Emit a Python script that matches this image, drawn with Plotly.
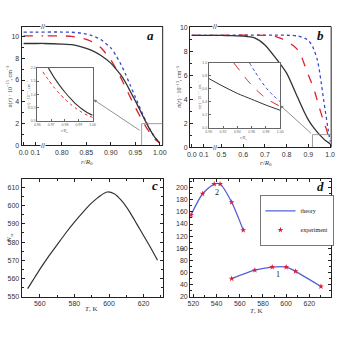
import plotly.graph_objects as go

# ---------------- data ----------------
# panel a : n(r) profiles
r_a = [0.0, 0.1, 0.76, 0.80, 0.82, 0.84, 0.86, 0.88, 0.90, 0.91, 0.92, 0.93, 0.94, 0.95, 0.96, 0.97, 0.98, 0.99, 1.0]
a_black = [9.35, 9.35, 9.35, 9.3, 9.25, 9.05, 8.75, 8.25, 7.55, 7.05, 6.5, 5.8, 4.95, 4.1, 3.2, 2.3, 1.45, 0.75, 0.25]
a_red = [10.05, 10.05, 10.05, 10.05, 10.0, 9.85, 9.55, 8.95, 7.85, 7.1, 6.25, 5.35, 4.4, 3.5, 2.65, 1.85, 1.15, 0.6, 0.2]
a_blue = [10.4, 10.4, 10.4, 10.4, 10.38, 10.3, 10.1, 9.7, 8.95, 8.3, 7.5, 6.55, 5.5, 4.45, 3.4, 2.4, 1.5, 0.75, 0.25]

# inset of panel a
ia_r_black = [0.968, 0.972, 0.976, 0.980, 0.984, 0.988, 0.992, 0.996, 1.0]
ia_black = [2.0, 1.65, 1.35, 1.08, 0.85, 0.63, 0.46, 0.32, 0.21]
ia_r_red = [0.964, 0.968, 0.972, 0.976, 0.980, 0.984, 0.988, 0.992, 0.996, 1.0]
ia_red = [1.85, 1.55, 1.27, 1.03, 0.82, 0.63, 0.47, 0.33, 0.22, 0.13]

# panel b : n(r) profiles
r_b_black = [0.0, 0.1, 0.45, 0.50, 0.55, 0.60, 0.65, 0.70, 0.75, 0.80, 0.85, 0.88, 0.90, 0.92, 0.94, 0.96, 0.98, 1.0]
b_black = [9.35, 9.35, 9.35, 9.34, 9.32, 9.28, 9.15, 8.55, 7.45, 6.2, 4.2, 3.0, 2.3, 1.75, 1.3, 0.9, 0.55, 0.3]
r_b_red = [0.0, 0.1, 0.45, 0.70, 0.75, 0.78, 0.80, 0.83, 0.85, 0.87, 0.89, 0.91, 0.93, 0.95, 0.97, 0.985, 1.0]
b_red = [9.35, 9.35, 9.35, 9.35, 9.25, 9.05, 8.85, 8.5, 8.15, 7.5, 6.5, 5.6, 4.6, 3.35, 2.2, 1.4, 0.35]
r_b_blue = [0.0, 0.1, 0.45, 0.82, 0.85, 0.87, 0.89, 0.90, 0.92, 0.94, 0.95, 0.96, 0.97, 0.98, 0.99, 1.0]
b_blue = [9.35, 9.35, 9.35, 9.35, 9.3, 9.2, 9.05, 8.95, 8.4, 7.4, 6.5, 5.3, 4.0, 2.8, 1.6, 0.5]

# inset of panel b
ib_r_black = [0.90, 0.92, 0.94, 0.96, 0.98, 1.0]
ib_black = [0.76, 0.64, 0.53, 0.44, 0.35, 0.27]
ib_r_red = [0.935, 0.945, 0.955, 0.965, 0.975, 0.985, 1.0]
ib_red = [1.0, 0.86, 0.72, 0.6, 0.5, 0.42, 0.33]
ib_r_blue = [0.957, 0.965, 0.972, 0.98, 0.99, 1.0]
ib_blue = [1.0, 0.86, 0.74, 0.62, 0.5, 0.4]

# panel c : N_cr(T)
T_c = [553, 556, 560, 565, 570, 575, 580, 585, 590, 595, 599, 603, 607, 612, 616, 620, 624, 628]
N_c = [554.5, 559, 565, 572, 578.5, 585, 591, 596.5, 601.5, 605.5, 607.5, 606.5, 603, 596.5, 590, 583.5, 577, 570]

# panel d : theory / experiment
T_d2 = [518, 528, 538, 543, 553, 563]
g_d2 = [155, 190, 206, 206, 176, 130]
T_d1 = [553, 573, 588, 600, 608, 630]
g_d1 = [50, 64, 69, 69, 62, 37]

# ---------------- helpers ----------------
W = 344.0
def px(x):
    return x / W
def py(y):
    return 1 - y / W

BLACK = "#333333"
RED = "#e0202a"
BLUE = "#3a48d0"
TICKF = dict(family="Liberation Sans", size=7, color="#333")
SERIF = "Liberation Serif"

fig = go.Figure()

def add_line(x, y, xa, ya, color, dash, width=1.3, name=None, legend=False):
    fig.add_trace(go.Scatter(x=x, y=y, xaxis=xa, yaxis=ya, mode="lines",
                             line=dict(color=color, dash=dash, width=width, shape="spline", smoothing=0.6),
                             showlegend=legend, name=name, hoverinfo="skip"))

# panel a main (both broken segments)
for xa in ["x", "x2"]:
    add_line(r_a, a_blue, xa, "y", BLUE, "dot")
    add_line(r_a, a_red, xa, "y", RED, "dash")
    add_line(r_a, a_black, xa, "y", BLACK, "solid")
# inset a
add_line(ia_r_red, ia_red, "x3", "y3", RED, "dot", 1.0)
add_line(ia_r_black, ia_black, "x3", "y3", BLACK, "solid", 1.1)

# panel b main
for xa in ["x4", "x5"]:
    add_line(r_b_blue, b_blue, xa, "y4", BLUE, "dot")
    add_line(r_b_red, b_red, xa, "y4", RED, "dash")
    add_line(r_b_black, b_black, xa, "y4", BLACK, "solid")
# inset b
add_line(ib_r_blue, ib_blue, "x6", "y6", BLUE, "dot", 1.0)
add_line(ib_r_red, ib_red, "x6", "y6", RED, "dash", 1.0)
add_line(ib_r_black, ib_black, "x6", "y6", BLACK, "solid", 1.0)

# panel c
add_line(T_c, N_c, "x7", "y7", BLACK, "solid", 1.2)

# panel d
fig.add_trace(go.Scatter(x=T_d2, y=g_d2, xaxis="x8", yaxis="y8", mode="lines",
                         line=dict(color="#5560d8", width=1.3, shape="spline", smoothing=0.8),
                         name="theory", legendgroup="th", showlegend=True))
fig.add_trace(go.Scatter(x=T_d1, y=g_d1, xaxis="x8", yaxis="y8", mode="lines",
                         line=dict(color="#5560d8", width=1.3, shape="spline", smoothing=0.8),
                         name="theory", legendgroup="th", showlegend=False))
fig.add_trace(go.Scatter(x=T_d2 + [None] + T_d1, y=g_d2 + [None] + g_d1, xaxis="x8", yaxis="y8",
                         mode="markers", marker=dict(symbol="star", size=4.5, color="#d8203c"),
                         name="experiment", showlegend=True))

def main_axis(domain, rng, anchor, **kw):
    d = dict(domain=domain, range=rng, anchor=anchor, showgrid=False, zeroline=False,
             showline=True, linecolor="#222", linewidth=1, ticks="inside", ticklen=3,
             tickcolor="#222", tickfont=TICKF, tickangle=0)
    d.update(kw)
    return d

def inset_axis(domain, rng, anchor, **kw):
    d = dict(domain=domain, range=rng, anchor=anchor, showgrid=False, zeroline=False,
             showline=True, mirror=True, linecolor="#666", linewidth=0.8, ticks="inside", ticklen=2,
             tickcolor="#666", tickangle=0,
             tickfont=dict(family="Liberation Sans", size=3.5, color="#666"))
    d.update(kw)
    return d

lay = dict(width=344, height=344, margin=dict(l=0, r=0, t=0, b=0),
           paper_bgcolor="white", plot_bgcolor="white")

# panel a axes
lay["xaxis"] = main_axis([px(19), px(41)], [-0.0167, 0.1667], "y", mirror=True,
                         tickvals=[0, 0.1], ticktext=["0.0", "0.1"])
lay["xaxis2"] = main_axis([px(41), px(163)], [0.762, 1.006], "y", mirror=True,
                          tickvals=[0.8, 0.85, 0.9, 0.95, 1.0], tickformat=".2f")
lay["yaxis"] = main_axis([py(145), py(24)], [0, 10.9], "x", tickvals=[0, 2, 4, 6, 8, 10],
                         minor=dict(ticks="inside", ticklen=2, dtick=1, tickcolor="#222"))
lay["xaxis3"] = inset_axis([px(35), px(91.5)], [0.96, 1.0], "y3",
                           tickvals=[0.96, 0.97, 0.98, 0.99, 1.0], tickformat=".2f")
lay["yaxis3"] = inset_axis([py(120), py(66)], [0, 2], "x3", tickvals=[0, 0.5, 1.0, 1.5, 2.0],
                           tickformat=".1f")

# panel b axes
lay["xaxis4"] = main_axis([px(191), px(216)], [-0.0138, 0.189], "y4", mirror=True,
                          tickvals=[0, 0.1], ticktext=["0.0", "0.1"])
lay["xaxis5"] = main_axis([px(216), px(335)], [0.4685, 1.005], "y4", mirror=True,
                          tickvals=[0.5, 0.6, 0.7, 0.8, 0.9, 1.0], tickformat=".1f")
lay["yaxis4"] = main_axis([py(147), py(24)], [0, 10.08], "x4", tickvals=[0, 2, 4, 6, 8, 10],
                          minor=dict(ticks="inside", ticklen=2, dtick=1, tickcolor="#222"))
lay["xaxis6"] = inset_axis([px(210), px(283)], [0.9, 1.0], "y6",
                           tickvals=[0.90, 0.92, 0.94, 0.96, 0.98, 1.0], tickformat=".2f")
lay["yaxis6"] = inset_axis([py(127), py(61)], [0, 1], "x6", tickvals=[0, 0.2, 0.4, 0.6, 0.8, 1.0],
                           tickformat=".1f")

# panel c axes
lay["xaxis7"] = main_axis([px(19), px(163)], [549.5, 631], "y7", mirror="ticks",
                          tickvals=[560, 580, 600, 620],
                          minor=dict(ticks="inside", ticklen=2, dtick=10, tickcolor="#222"))
lay["yaxis7"] = main_axis([py(299), py(179)], [550, 614.7], "x7", mirror="ticks",
                          tickvals=[550, 560, 570, 580, 590, 600, 610],
                          minor=dict(ticks="inside", ticklen=2, dtick=5, tickcolor="#222"))
# panel d axes
lay["xaxis8"] = main_axis([px(191), px(335)], [517.2, 638.8], "y8", mirror="ticks",
                          tickvals=[520, 540, 560, 580, 600, 620],
                          minor=dict(ticks="inside", ticklen=2, dtick=10, tickcolor="#222"))
lay["yaxis8"] = main_axis([py(299), py(179)], [20, 214.5], "x8", mirror="ticks",
                          tickvals=list(range(20, 201, 20)),
                          minor=dict(ticks="inside", ticklen=2, dtick=10, tickcolor="#222"))

lay["legend"] = dict(x=px(262), y=py(196), xanchor="left", yanchor="top",
                     bordercolor="#555", borderwidth=0.8, bgcolor="white",
                     font=dict(family=SERIF, size=6, color="#222"), tracegroupgap=0,
                     itemwidth=30)

fig.update_layout(**lay)

# right frame lines of broken panels
for xd, yd in [("x2 domain", "y domain"), ("x5 domain", "y4 domain")]:
    fig.add_shape(type="line", xref=xd, yref=yd, x0=1, x1=1, y0=0, y1=1,
                  line=dict(color="#222", width=1))

# zoom rectangles
fig.add_shape(type="line", xref="x2", yref="y", x0=0.963, x1=0.963, y0=0, y1=2,
              line=dict(color="#888", width=0.8))
fig.add_shape(type="line", xref="x2", yref="y", x0=0.963, x1=1.006, y0=2, y1=2,
              line=dict(color="#888", width=0.8))
fig.add_shape(type="line", xref="x5", yref="y4", x0=0.919, x1=0.919, y0=0, y1=1.07,
              line=dict(color="#888", width=0.8))
fig.add_shape(type="line", xref="x5", yref="y4", x0=0.919, x1=1.005, y0=1.07, y1=1.07,
              line=dict(color="#888", width=0.8))

ann = []
# arrows
ann.append(dict(x=0.865, y=4.2, xref="x2", yref="y", ax=0.962, ay=1.3, axref="x2", ayref="y",
                text="", showarrow=True, arrowhead=2, arrowsize=0.8, arrowwidth=0.8, arrowcolor="#777"))
ann.append(dict(x=0.771, y=3.5, xref="x5", yref="y4", ax=0.919, ay=1.07, axref="x5", ayref="y4",
                text="", showarrow=True, arrowhead=2, arrowsize=0.8, arrowwidth=0.8, arrowcolor="#777"))

C = dict(xanchor="center", yanchor="middle", showarrow=False, xref="paper", yref="paper")

# break marks
for xb, yt, yb in [(41, 24, 145), (216, 24, 147)]:
    for yy in (yt, yb):
        ann.append(dict(C, x=px(xb), y=py(yy), text="//",
                        font=dict(family="Liberation Sans", size=7, color="#222"),
                        bgcolor="white", borderpad=0))

# panel letters
for t, x, y in [("a", 151, 33), ("b", 324, 33), ("c", 155, 186), ("d", 324, 187)]:
    ann.append(dict(C, x=px(x), y=py(y), text="<b><i>%s</i></b>" % t,
                    font=dict(family=SERIF, size=13, color="#111")))

# axis titles
xt = dict(C, font=dict(family=SERIF, size=7, color="#333"))
ann.append(dict(xt, x=px(86), y=py(162), text="<i>r</i>/<i>R</i><sub>0</sub>"))
ann.append(dict(xt, x=px(268), y=py(163), text="<i>r</i>/<i>R</i><sub>0</sub>"))
ann.append(dict(xt, x=px(90), y=py(311), text="<i>T</i>, K"))
ann.append(dict(xt, x=px(258), y=py(313), text="<i>T</i>, K"))
yl = "<i>n</i>(<i>r</i>) · 10<sup>−13</sup>, cm<sup>−3</sup>"
ann.append(dict(xt, x=px(7), y=py(85), text=yl, textangle=-90, font=dict(family=SERIF, size=6, color="#333")))
ann.append(dict(xt, x=px(180), y=py(85), text=yl, textangle=-90, font=dict(family=SERIF, size=6, color="#333")))
ann.append(dict(xt, x=px(6), y=py(239), text="<i>N</i><sub>cr</sub>", textangle=-90))
ann.append(dict(xt, x=px(181), y=py(250), text="<i>g</i>", textangle=-90))
# inset titles
it = dict(C, font=dict(family=SERIF, size=4, color="#555"))
ann.append(dict(it, x=px(63), y=py(130), text="<i>r</i>/<i>R</i><sub>0</sub>"))
ann.append(dict(it, x=px(246), y=py(137), text="<i>r</i>/<i>R</i><sub>0</sub>"))
ann.append(dict(it, x=px(27), y=py(93), text=yl, textangle=-90))
ann.append(dict(it, x=px(201), y=py(94), text=yl, textangle=-90))
# curve labels in d
ann.append(dict(x=540.8, y=192, xref="x8", yref="y8", text="2", showarrow=False,
                font=dict(family=SERIF, size=8, color="#222")))
ann.append(dict(x=592.6, y=57, xref="x8", yref="y8", text="1", showarrow=False,
                font=dict(family=SERIF, size=8, color="#222")))

fig.update_layout(annotations=ann)
fig.write_html("out.html")
